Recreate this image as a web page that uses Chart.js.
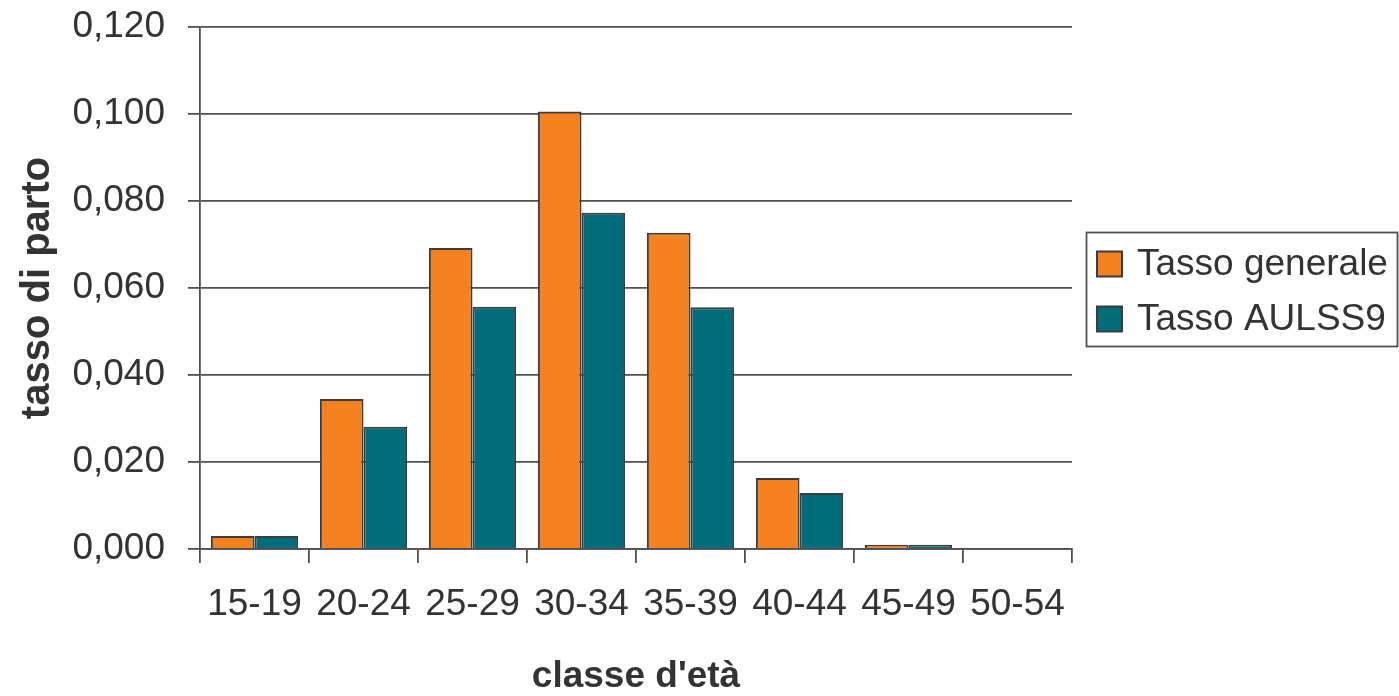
<!DOCTYPE html>
<html>
<head>
<meta charset="utf-8">
<script src="https://cdn.jsdelivr.net/npm/chart.js@4.4.1/dist/chart.umd.min.js"></script>
<style>
  html, body { margin: 0; padding: 0; background: #ffffff; }
  #wrap { width: 1399px; height: 696px; position: relative; }
</style>
</head>
<body>
<div id="wrap"><canvas id="chart"></canvas></div>
<script>
// Age classes and birth rates per class
const ageClasses = ['15-19', '20-24', '25-29', '30-34', '35-39', '40-44', '45-49', '50-54'];
const tassoGenerale = [0.003, 0.0345, 0.0692, 0.1006, 0.0727, 0.0163, 0.001, 0];
const tassoAulss9 = [0.003, 0.0281, 0.0557, 0.0773, 0.0556, 0.0129, 0.001, 0];
const seriesNames = ['Tasso generale', 'Tasso AULSS9'];
const seriesColors = ['#F5821F', '#006E7A'];
const yTicks = { min: 0, max: 0.12, step: 0.02 };

const textColor = '#333333';
const lineColor = '#505050';
const fontFamily = '"Liberation Sans", Arial, Helvetica, sans-serif';

// Framed legend to the right of the plot area
const boxedLegend = {
  id: 'boxedLegend',
  afterDraw(chart) {
    const ctx = chart.ctx;
    const area = chart.chartArea;
    const left = area.right + 14;
    const top = 232;
    const width = 311;
    const height = 114;
    const rowGap = 55;
    ctx.save();
    ctx.strokeStyle = lineColor;
    ctx.lineWidth = 1.8;
    ctx.strokeRect(left + 0.5, top + 0.5, width, height);
    ctx.font = '37px ' + fontFamily;
    ctx.textBaseline = 'middle';
    ctx.textAlign = 'left';
    chart.data.datasets.forEach((ds, i) => {
      const cy = top + 32 + i * rowGap;
      ctx.fillStyle = ds.backgroundColor;
      ctx.fillRect(left + 11, cy - 12.5, 25, 25);
      ctx.strokeStyle = '#3c3c3c';
      ctx.lineWidth = 2;
      ctx.strokeRect(left + 11, cy - 12.5, 25, 25);
      ctx.fillStyle = textColor;
      ctx.fillText(ds.label, left + 51, cy + 1);
    });
    ctx.restore();
  }
};

new Chart(document.getElementById('chart'), {
  type: 'bar',
  data: {
    labels: ageClasses,
    datasets: [
      { label: seriesNames[0], data: tassoGenerale, backgroundColor: seriesColors[0] },
      { label: seriesNames[1], data: tassoAulss9, backgroundColor: seriesColors[1] }
    ]
  },
  options: {
    responsive: true,
    maintainAspectRatio: false,
    animation: false,
    layout: { padding: { top: 27, right: 327, bottom: 0, left: 0 } },
    datasets: {
      bar: {
        categoryPercentage: 0.8,
        barPercentage: 1.0,
        borderColor: '#3c3c3c',
        borderWidth: 2
      }
    },
    plugins: {
      legend: { display: false },
      tooltip: { enabled: false }
    },
    scales: {
      x: {
        offset: true,
        afterFit(scale) { scale.height = 147; },
        grid: {
          offset: true,
          drawOnChartArea: false,
          drawTicks: true,
          tickLength: 14,
          color: lineColor,
          lineWidth: 1.8
        },
        border: { display: true, color: lineColor, width: 1.8 },
        ticks: {
          color: textColor,
          font: { family: fontFamily, size: 37 },
          padding: 20,
          maxRotation: 0,
          autoSkip: false
        },
        title: {
          display: true,
          text: "classe d'età",
          color: textColor,
          font: { family: fontFamily, size: 37, weight: 'bold', lineHeight: 1 },
          padding: { top: 0, bottom: 1 }
        }
      },
      y: {
        min: yTicks.min,
        max: yTicks.max,
        afterFit(scale) {
          scale.width = 200;
          scale.paddingTop = 20;
          scale.paddingBottom = 20;
        },
        grid: {
          color: lineColor,
          lineWidth: 1.8,
          drawTicks: true,
          tickLength: 12
        },
        border: { display: true, color: lineColor, width: 1.8 },
        ticks: {
          stepSize: yTicks.step,
          color: textColor,
          font: { family: fontFamily, size: 37 },
          padding: 23,
          callback: (v) => Number(v).toFixed(3).replace('.', ',')
        },
        title: {
          display: true,
          text: 'tasso di parto',
          color: textColor,
          font: { family: fontFamily, size: 40, weight: 'bold', lineHeight: 1 },
          padding: { top: 18, bottom: 0 }
        }
      }
    }
  },
  plugins: [boxedLegend]
});
</script>
</body>
</html>
